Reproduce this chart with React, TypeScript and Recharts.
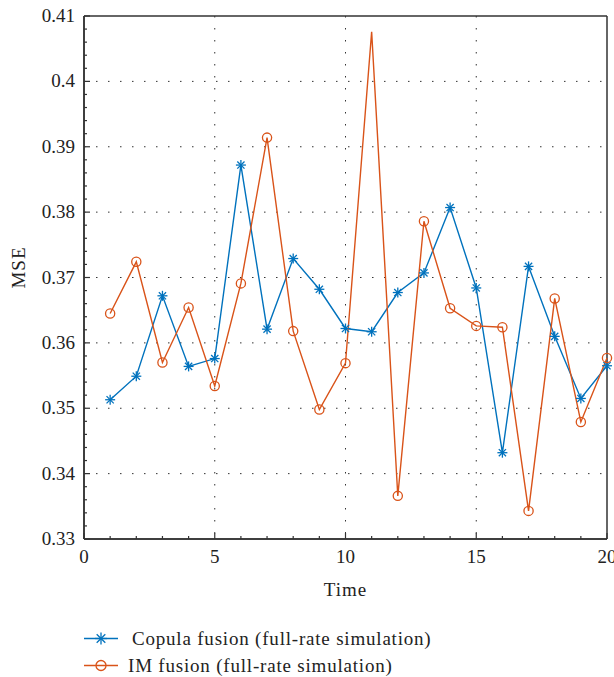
import React from "react";
import { LineChart, Line, XAxis, YAxis, CartesianGrid, Label, ReferenceLine } from "recharts";

const times = [1, 2, 3, 4, 5, 6, 7, 8, 9, 10, 11, 12, 13, 14, 15, 16, 17, 18, 19, 20];
const copulaMse = [
  0.3513, 0.3549, 0.3672, 0.3564, 0.3576, 0.3872, 0.3621, 0.3729, 0.3682, 0.3622,
  0.3617, 0.3677, 0.3707, 0.3807, 0.3684, 0.3432, 0.3717, 0.361, 0.3515, 0.3565,
];
const imMse = [
  0.3645, 0.3724, 0.357, 0.3654, 0.3534, 0.3691, 0.3914, 0.3618, 0.3498, 0.3569,
  0.4076, 0.3366, 0.3786, 0.3653, 0.3626, 0.3624, 0.3343, 0.3668, 0.3479, 0.3577,
];
const xMajor = [0, 5, 10, 15, 20];
const yMajor = [0.33, 0.34, 0.35, 0.36, 0.37, 0.38, 0.39, 0.4, 0.41];
const xGrid = [5, 10, 15];
const yGrid = [0.34, 0.35, 0.36, 0.37, 0.38, 0.39, 0.4];

const xTicks = Array.from({ length: 21 }, (_, i) => i);
const yTicks = Array.from({ length: 41 }, (_, i) => Math.round((0.33 + i * 0.002) * 1000) / 1000);

const BLUE = "#0072BD";
const ORANGE = "#D95319";
const AXIS = "#333";
const FONT = "'Liberation Serif', 'Times New Roman', serif";

const data = times.map((t, i) => ({ t, copula: copulaMse[i], im: imMse[i] }));

const isMajor = (v: number, list: number[]) => list.some((m) => Math.abs(m - v) < 1e-9);

function Star({ cx, cy, color, s = 5 }: any) {
  const d = s * 0.72;
  return (
    <g stroke={color} strokeWidth={1.3}>
      <line x1={cx - s} y1={cy} x2={cx + s} y2={cy} />
      <line x1={cx} y1={cy - s} x2={cx} y2={cy + s} />
      <line x1={cx - d} y1={cy - d} x2={cx + d} y2={cy + d} />
      <line x1={cx - d} y1={cy + d} x2={cx + d} y2={cy - d} />
    </g>
  );
}

const starDot = (props: any) => <Star key={`s-${props.index}`} cx={props.cx} cy={props.cy} color={BLUE} />;

// the spike at t=11 shows no marker in the reference
const circleDot = (props: any) =>
  props.index === 10 ? (
    <g key={`c-${props.index}`} />
  ) : (
    <circle key={`c-${props.index}`} cx={props.cx} cy={props.cy} r={4.6} fill="none" stroke={ORANGE} strokeWidth={1.3} />
  );

const bottomTick = (props: any) => {
  const { x, y, payload } = props;
  const major = isMajor(payload.value, xMajor);
  return (
    <g>
      <line x1={x} y1={y} x2={x} y2={y - (major ? 6 : 3)} stroke={AXIS} strokeWidth={1.2} />
      {major && (
        <text x={x} y={y + 24} textAnchor="middle" fontSize={19} fontFamily={FONT} fill="#222">
          {payload.value}
        </text>
      )}
    </g>
  );
};

const topTick = (props: any) => {
  const { x, y, payload } = props;
  const major = isMajor(payload.value, xMajor);
  return <line x1={x} y1={y} x2={x} y2={y + (major ? 6 : 3)} stroke={AXIS} strokeWidth={1.2} />;
};

const leftTick = (props: any) => {
  const { x, y, payload } = props;
  const major = isMajor(payload.value, yMajor);
  return (
    <g>
      <line x1={x} y1={y} x2={x + (major ? 6 : 3)} y2={y} stroke={AXIS} strokeWidth={1.2} />
      {major && (
        <text x={x - 9} y={y + 6} textAnchor="end" fontSize={19} fontFamily={FONT} fill="#222">
          {String(payload.value)}
        </text>
      )}
    </g>
  );
};

const rightTick = (props: any) => {
  const { x, y, payload } = props;
  const major = isMajor(payload.value, yMajor);
  return <line x1={x} y1={y} x2={x - (major ? 6 : 3)} y2={y} stroke={AXIS} strokeWidth={1.2} />;
};

function ChartLegend() {
  return (
    <div
      style={{
        position: "absolute",
        left: 83,
        top: 625,
        fontFamily: FONT,
        fontSize: 19,
        letterSpacing: 0.8,
        color: "#222",
        lineHeight: "27px",
      }}
    >
      <div style={{ display: "flex", alignItems: "center" }}>
        <svg width={36} height={27}>
          <line x1={1} y1={13.5} x2={35} y2={13.5} stroke={BLUE} strokeWidth={1.3} />
          <Star cx={18} cy={13.5} color={BLUE} s={6} />
        </svg>
        <span style={{ marginLeft: 13 }}>Copula fusion (full-rate simulation)</span>
      </div>
      <div style={{ display: "flex", alignItems: "center" }}>
        <svg width={36} height={27}>
          <line x1={1} y1={13.5} x2={35} y2={13.5} stroke={ORANGE} strokeWidth={1.3} />
          <circle cx={18} cy={13.5} r={5} fill="none" stroke={ORANGE} strokeWidth={1.3} />
        </svg>
        <span style={{ marginLeft: 9 }}>IM fusion (full-rate simulation)</span>
      </div>
    </div>
  );
}

const labelStyle = { fontFamily: FONT, fontSize: 19, fill: "#222", letterSpacing: 1 };

export default function App() {
  return (
    <div style={{ position: "absolute", left: 0, top: 0, width: 614, height: 677, background: "#fff" }}>
      <LineChart width={614} height={677} data={data} margin={{ top: 16, right: 7, left: 0, bottom: 108 }}>
        <CartesianGrid
          xAxisId="main"
          yAxisId="main"
          horizontalValues={yGrid}
          verticalValues={xGrid}
          stroke="#333"
          strokeDasharray="1.5 10.5"
        />
        <XAxis
          xAxisId="main"
          dataKey="t"
          type="number"
          domain={[0, 20]}
          ticks={xTicks}
          interval={0}
          tickSize={0}
          tickMargin={0}
          tick={bottomTick}
          tickLine={false}
          height={30}
          stroke={AXIS}
          strokeWidth={1.5}
        >
          <Label value="Time" position="bottom" offset={14} style={labelStyle} />
        </XAxis>
        <XAxis
          xAxisId="top"
          orientation="top"
          dataKey="t"
          type="number"
          domain={[0, 20]}
          ticks={xTicks}
          interval={0}
          tickSize={0}
          tickMargin={0}
          tick={topTick}
          tickLine={false}
          height={0}
          stroke={AXIS}
          strokeWidth={1.5}
        />
        <YAxis
          yAxisId="main"
          type="number"
          domain={[0.33, 0.41]}
          ticks={yTicks}
          interval={0}
          tickSize={0}
          tickMargin={0}
          tick={leftTick}
          tickLine={false}
          width={84}
          stroke={AXIS}
          strokeWidth={1.5}
        >
          <Label
            value="MSE"
            angle={-90}
            position="left"
            offset={-18}
            dy={-10}
            style={{ ...labelStyle, textAnchor: "middle" }}
          />
        </YAxis>
        <YAxis
          yAxisId="right"
          orientation="right"
          type="number"
          domain={[0.33, 0.41]}
          ticks={yTicks}
          interval={0}
          tickSize={0}
          tickMargin={0}
          tick={rightTick}
          tickLine={false}
          width={0}
          stroke={AXIS}
          strokeWidth={1.5}
        />
        {/* box frame */}
        <ReferenceLine xAxisId="main" yAxisId="main" x={0} stroke={AXIS} strokeWidth={1.5} />
        <ReferenceLine xAxisId="main" yAxisId="main" x={20} stroke={AXIS} strokeWidth={1.5} />
        <ReferenceLine xAxisId="main" yAxisId="main" y={0.33} stroke={AXIS} strokeWidth={1.5} />
        <ReferenceLine xAxisId="main" yAxisId="main" y={0.41} stroke={AXIS} strokeWidth={1.5} />
        <Line
          xAxisId="main"
          yAxisId="main"
          dataKey="copula"
          stroke={BLUE}
          strokeWidth={1.4}
          dot={starDot}
          isAnimationActive={false}
          type="linear"
        />
        <Line
          xAxisId="top"
          yAxisId="right"
          dataKey="im"
          stroke={ORANGE}
          strokeWidth={1.4}
          dot={circleDot}
          isAnimationActive={false}
          type="linear"
        />
      </LineChart>
      <ChartLegend />
    </div>
  );
}
